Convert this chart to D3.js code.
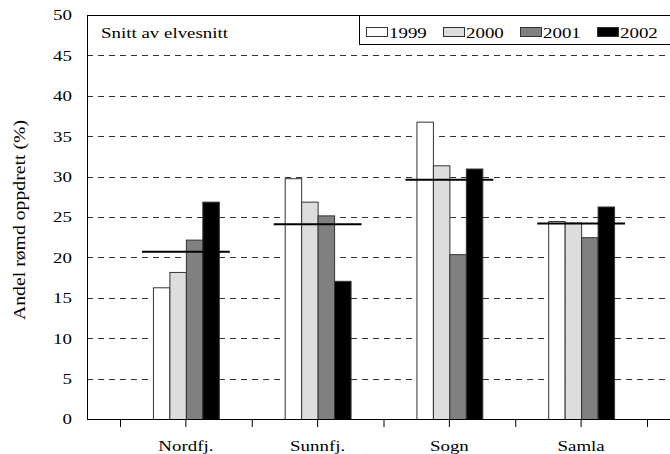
<!DOCTYPE html>
<html>
<head>
<meta charset="utf-8">
<script src="https://cdn.jsdelivr.net/npm/d3@7"></script>
<style>
  body { margin: 0; background: #fff; }
  text { font-family: "Liberation Serif", "Times New Roman", serif; fill: #000; }
</style>
</head>
<body>
<div id="chart"></div>
<script>
// data
var categories = ["Nordfj.", "Sunnfj.", "Sogn", "Samla"];
var years = ["1999", "2000", "2001", "2002"];
var v1999 = [16.3, 29.8, 36.8, 24.5];
var v2000 = [18.2, 26.9, 31.4, 24.3];
var v2001 = [22.2, 25.2, 20.4, 22.5];
var v2002 = [26.9, 17.1, 31.0, 26.3];
var snitt = [20.7, 24.1, 29.6, 24.2];
var yTicks = [0, 5, 10, 15, 20, 25, 30, 35, 40, 45, 50];

var series = [v1999, v2000, v2001, v2002];
var fills = ["#ffffff", "#dddddd", "#808080", "#000000"];

var W = 670, H = 454;
var plot = {left: 87, top: 15, right: 670, bottom: 419};
var stretch = 1.26; // the original text is drawn a bit wide

var svg = d3.select("#chart").append("svg")
    .attr("width", W)
    .attr("height", H);

var y = d3.scaleLinear().domain([0, 50]).range([plot.bottom, plot.top]);

var x = d3.scaleBand()
    .domain(categories)
    .range([120, 647])
    .padding(0);

// bars take the middle half of each band
var xSub = d3.scaleBand()
    .domain(years)
    .range([x.bandwidth() / 4, x.bandwidth() * 3 / 4]);

var color = d3.scaleOrdinal().domain(years).range(fills);

// gridlines
svg.append("g")
    .selectAll("line")
    .data(yTicks.filter(function (d) { return d > 0 && d < 50; }))
    .enter().append("line")
    .attr("x1", plot.left)
    .attr("x2", plot.right)
    .attr("y1", function (d) { return Math.round(y(d)) + 0.5; })
    .attr("y2", function (d) { return Math.round(y(d)) + 0.5; })
    .attr("stroke", "#333")
    .attr("stroke-dasharray", "6,5");

// top border
svg.append("line")
    .attr("x1", plot.left).attr("x2", plot.right)
    .attr("y1", plot.top + 0.5).attr("y2", plot.top + 0.5)
    .attr("stroke", "#000");

// bars
var rows = categories.map(function (c, i) {
    return { cat: c, vals: years.map(function (yr, j) { return { key: yr, value: series[j][i] }; }) };
});

svg.append("g")
    .selectAll("g")
    .data(rows)
    .enter().append("g")
    .attr("transform", function (d) { return "translate(" + x(d.cat) + ",0)"; })
    .selectAll("rect")
    .data(function (d) { return d.vals; })
    .enter().append("rect")
    .attr("x", function (d) { return xSub(d.key) + 0.5; })
    .attr("y", function (d) { return y(d.value) + 0.5; })
    .attr("width", xSub.bandwidth())
    .attr("height", function (d) { return plot.bottom - y(d.value); })
    .attr("fill", function (d) { return color(d.key); })
    .attr("stroke", "#333")
    .attr("stroke-width", 1);

// mean lines
svg.append("g")
    .selectAll("line")
    .data(categories)
    .enter().append("line")
    .attr("x1", function (d) { return x(d) + x.bandwidth() / 2 - x.bandwidth() / 3; })
    .attr("x2", function (d) { return x(d) + x.bandwidth() / 2 + x.bandwidth() / 3; })
    .attr("y1", function (d, i) { return y(snitt[i]); })
    .attr("y2", function (d, i) { return y(snitt[i]); })
    .attr("stroke", "#000")
    .attr("stroke-width", 2);

// y axis
var yAxis = svg.append("g")
    .attr("transform", "translate(" + plot.left + ",0)")
    .call(d3.axisLeft(y).tickValues(yTicks).tickSize(0).tickPadding(15));
yAxis.select(".domain").remove();
yAxis.selectAll("text").style("font-size", "15px").style("font-family", "Liberation Serif");
svg.append("line")
    .attr("x1", plot.left + 0.5).attr("x2", plot.left + 0.5)
    .attr("y1", plot.top).attr("y2", plot.bottom)
    .attr("stroke", "#000");

// x axis
var xAxis = svg.append("g")
    .attr("transform", "translate(0," + plot.bottom + ")")
    .call(d3.axisBottom(x).tickSize(8).tickPadding(13));
xAxis.select(".domain").remove();
xAxis.selectAll("text").style("font-size", "15px").style("font-family", "Liberation Serif");
xAxis.selectAll("line").attr("stroke", "#000");
svg.append("g")
    .selectAll("line")
    .data(categories.concat(["end"]))
    .enter().append("line")
    .attr("x1", function (d) { return (d === "end" ? x.range()[1] : x(d)) + 0.5; })
    .attr("x2", function (d) { return (d === "end" ? x.range()[1] : x(d)) + 0.5; })
    .attr("y1", plot.bottom).attr("y2", plot.bottom + 8)
    .attr("stroke", "#000");
svg.append("line")
    .attr("x1", plot.left).attr("x2", plot.right)
    .attr("y1", plot.bottom + 0.5).attr("y2", plot.bottom + 0.5)
    .attr("stroke", "#000");

// y title
svg.append("text")
    .attr("transform", "translate(25,220) rotate(-90)")
    .attr("text-anchor", "middle")
    .attr("textLength", 200)
    .attr("lengthAdjust", "spacingAndGlyphs")
    .style("font-size", "17px")
    .text("Andel rømd oppdrett (%)");

// inner title
svg.append("text")
    .attr("x", 101)
    .attr("y", 38)
    .style("font-size", "15px")
    .text("Snitt av elvesnitt");

// legend
var lg = svg.append("g").attr("transform", "translate(359,15)");
lg.append("rect")
    .attr("x", 0.5).attr("y", 0.5)
    .attr("width", 320).attr("height", 29)
    .attr("fill", "#fff")
    .attr("stroke", "#000");
var items = lg.selectAll("g.item")
    .data(years)
    .enter().append("g")
    .attr("class", "item")
    .attr("transform", function (d, i) { return "translate(" + (7 + i * 77) + ",0)"; });
items.append("rect")
    .attr("x", 0.5).attr("y", 12.5)
    .attr("width", 21).attr("height", 9)
    .attr("fill", function (d) { return color(d); })
    .attr("stroke", "#333");
items.append("text")
    .attr("x", 23)
    .attr("y", 23)
    .style("font-size", "15px")
    .text(function (d) { return d; });

// widen horizontal text like the original picture
svg.selectAll("text").filter(function () {
    return !this.getAttribute("transform") || this.getAttribute("transform").indexOf("rotate") < 0;
}).each(function () {
    var len = this.getComputedTextLength();
    d3.select(this)
        .attr("textLength", len * stretch)
        .attr("lengthAdjust", "spacingAndGlyphs");
});
</script>
</body>
</html>
